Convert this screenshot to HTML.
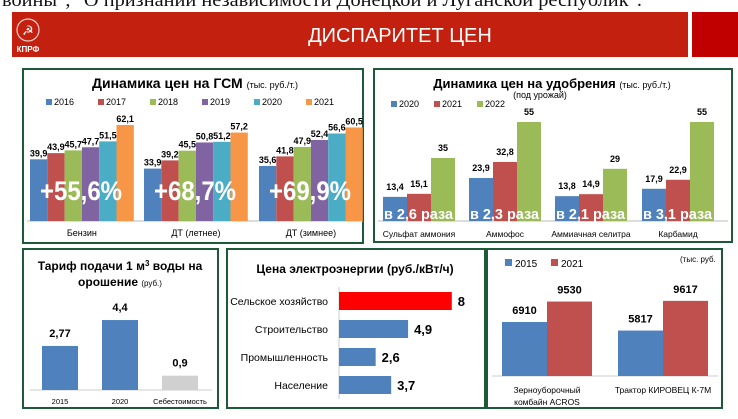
<!DOCTYPE html>
<html><head><meta charset="utf-8">
<style>
html,body{margin:0;padding:0;background:#fff;}
body{width:738px;height:414px;overflow:hidden;font-family:"Liberation Sans",sans-serif;}
svg text{font-family:"Liberation Sans","DejaVu Sans",sans-serif;}
</style></head><body>
<svg id="s" width="738" height="414" viewBox="0 0 738 414" xmlns="http://www.w3.org/2000/svg">
  <text x="2" y="6" font-size="19" fill="#111" textLength="640" lengthAdjust="spacingAndGlyphs" style="font-family:'Liberation Serif',serif">войны",  "О признании независимости Донецкой и Луганской республик".</text>
  <rect x="12" y="12" width="676" height="45" fill="#c4200f"/>
  <rect x="692" y="12" width="46" height="45" fill="#c00000"/>
  <g>
    <circle cx="28" cy="30" r="11" fill="none" stroke="#f3d0c8" stroke-width="1.2"/>
    <text x="28" y="35" font-size="13" fill="#fff" text-anchor="middle">☭</text>
    <text x="28" y="52" font-size="8" font-weight="bold" fill="#fff" text-anchor="middle">КПРФ</text>
  </g>
  <text x="400" y="42" font-size="20" fill="#fff" text-anchor="middle">ДИСПАРИТЕТ ЦЕН</text>

  <rect x="23" y="69" width="340" height="174" fill="#fff" stroke="#1d5a3a" stroke-width="2"/>
  <rect x="374" y="69" width="358" height="173" fill="#fff" stroke="#1d5a3a" stroke-width="2"/>
  <rect x="23" y="249" width="195" height="159" fill="#fff" stroke="#1d5a3a" stroke-width="2"/>
  <rect x="227" y="249" width="258" height="159" fill="#fff" stroke="#1d5a3a" stroke-width="2"/>
  <rect x="487" y="249" width="235" height="159" fill="#fff" stroke="#1d5a3a" stroke-width="2"/>

  <text x="195" y="88" font-size="14" font-weight="bold" text-anchor="middle">Динамика цен на ГСМ <tspan font-size="9" font-weight="normal">(тыс. руб./т.)</tspan></text>
  <text x="552" y="88" font-size="13" font-weight="bold" text-anchor="middle">Динамика цен на удобрения <tspan font-size="9" font-weight="normal">(тыс. руб./т.)</tspan></text>
  <text x="540" y="98" font-size="9" text-anchor="middle">(под урожай)</text>
  <text x="120" y="270" font-size="12" font-weight="bold" text-anchor="middle">Тариф подачи 1 м<tspan font-size="8" dy="-4">3</tspan><tspan dy="4"> воды на</tspan></text>
  <text x="120" y="286" font-size="12" font-weight="bold" text-anchor="middle">орошение <tspan font-size="8" font-weight="normal">(руб.)</tspan></text>
  <text x="355" y="273" font-size="12" font-weight="bold" text-anchor="middle">Цена электроэнергии (руб./кВт/ч)</text>
  <text x="680" y="262" font-size="8">(тыс. руб.</text>
  <g id="g"></g>
</svg>
<script>
const fuelCats=["Бензин","ДТ (летнее)","ДТ (зимнее)"];
const fuelYears=["2016","2017","2018","2019","2020","2021"];
const fuel2016=[39.9,33.9,35.6];
const fuel2017=[43.9,39.2,41.8];
const fuel2018=[45.7,45.5,47.9];
const fuel2019=[47.7,50.8,52.4];
const fuel2020=[51.5,51.2,56.6];
const fuel2021=[62.1,57.2,60.5];
const fuelPct=["+55,6%","+68,7%","+69,9%"];
const fertCats=["Сульфат аммония","Аммофос","Аммиачная селитра","Карбамид"];
const fertYears=["2020","2021","2022"];
const fert2020=[13.4,23.9,13.8,17.9];
const fert2021=[15.1,32.8,14.9,22.9];
const fert2022=[35,55,29,55];
const fertRatio=["в 2,6 раза","в 2,3 раза","в 2,1 раза","в 3,1 раза"];
const waterCats=["2015","2020","Себестоимость"];
const waterVals=[2.77,4.4,0.9];
const elecCats=["Сельское хозяйство","Строительство","Промышленность","Население"];
const elecVals=[8,4.9,2.6,3.7];
const machCats=[["Зерноуборочный","комбайн ACROS"],["Трактор КИРОВЕЦ К-7М"]];
const machYears=["2015","2021"];
const mach2015=[6910,5817];
const mach2021=[9530,9617];

const NS="http://www.w3.org/2000/svg",G=document.getElementById('g');
function el(t,a,txt){const e=document.createElementNS(NS,t);for(const k in a)e.setAttribute(k,a[k]);if(txt!==undefined)e.textContent=txt;G.appendChild(e);return e;}
const fmt=v=>String(v).replace('.',',');
const C=["#4f81bd","#c0504d","#9bbb59","#8064a2","#4bacc6","#f79646"];

// fuel chart
(function(){
 const series=[fuel2016,fuel2017,fuel2018,fuel2019,fuel2020,fuel2021];
 const base=221,sy=v=>base-v*1.546,g0=[30,144,259],bw=17.3;
 fuelYears.forEach((y,i)=>{const x=46+i*52;
  let r=el('rect',{x:x,y:99,width:6,height:6,fill:C[i]});
  let t=el('text',{x:x+8,y:105,'font-size':9},y);});
 el('line',{x1:27,y1:base,x2:363,y2:base,stroke:'#bbb'});
 fuelCats.forEach((c,j)=>{
  series.forEach((s,i)=>{const x=g0[j]+i*bw,v=s[j];
   let r=el('rect',{x:x,y:sy(v),width:bw,height:base-sy(v),fill:C[i]});
   let t=el('text',{x:x+bw/2,y:sy(v)-3,'font-size':9,'font-weight':'bold','text-anchor':'middle'},fmt(v));});
  let p=el('text',{x:g0[j]+10,y:200,'font-size':27,'font-weight':'bold',fill:'#fff',textLength:82,lengthAdjust:'spacingAndGlyphs'},fuelPct[j]);
  let t=el('text',{x:g0[j]+3*bw,y:236,'font-size':9,'text-anchor':'middle'},c);});
})();

// fertilizer chart
(function(){
 const series=[fert2020,fert2021,fert2022];
 const base=221,sy=v=>base-v*1.8,g0=[383,469,555,642],bw=24;
 fertYears.forEach((y,i)=>{const x=391+i*43;
  let r=el('rect',{x:x,y:101,width:6,height:6,fill:C[i]});
  let t=el('text',{x:x+8,y:107,'font-size':9},y);});
 el('line',{x1:378,y1:base,x2:728,y2:base,stroke:'#bbb'});
 fertCats.forEach((c,j)=>{
  series.forEach((s,i)=>{const x=g0[j]+i*bw,v=s[j];
   let r=el('rect',{x:x,y:sy(v),width:bw,height:base-sy(v),fill:C[i]});
   let t=el('text',{x:x+bw/2,y:sy(v)-7,'font-size':9,'font-weight':'bold','text-anchor':'middle'},fmt(v));});
  let p=el('text',{x:g0[j]+1,y:219,'font-size':15,'font-weight':'bold',fill:'#fff',textLength:69,lengthAdjust:'spacingAndGlyphs'},fertRatio[j]);
  let t=el('text',{x:g0[j]+1.5*bw,y:237,'font-size':8.5,'text-anchor':'middle'},c);});
})();

// water chart
(function(){
 const base=390,sy=v=>base-v*15.9,xs=[42,102,162],cols=["#4f81bd","#4f81bd","#d0d0d0"];
 el('line',{x1:30,y1:base,x2:212,y2:base,stroke:'#ccc'});
 waterCats.forEach((c,i)=>{const v=waterVals[i];
  let r=el('rect',{x:xs[i],y:sy(v),width:36,height:base-sy(v),fill:cols[i]});
  let t=el('text',{x:xs[i]+18,y:sy(v)-9,'font-size':11,'font-weight':'bold','text-anchor':'middle'},fmt(v));
  let l=el('text',{x:xs[i]+18,y:404,'font-size':7.5,'text-anchor':'middle'},c);});
})();

// electricity chart
(function(){
 const x0=339,sx=v=>v*14.1,ys=[292,320,348,376];
 el('line',{x1:x0,y1:287,x2:x0,y2:399,stroke:'#ccc'});
 elecCats.forEach((c,i)=>{const v=elecVals[i];
  let r=el('rect',{x:x0,y:ys[i],width:sx(v),height:18,fill:i===0?'#ff0000':'#4f81bd'});
  let t=el('text',{x:x0+sx(v)+6,y:ys[i]+14,'font-size':13,'font-weight':'bold'},fmt(v));
  let l=el('text',{x:328,y:ys[i]+13,'font-size':10.5,'text-anchor':'end'},c);});
})();

// machinery chart
(function(){
 const base=376,sy=v=>base-v/128,g0=[502,618],bw=45,series=[mach2015,mach2021];
 machYears.forEach((y,i)=>{const x=505+i*46;
  let r=el('rect',{x:x,y:259,width:7,height:7,fill:C[i]});
  let t=el('text',{x:x+10,y:267,'font-size':10},y);});
 el('line',{x1:492,y1:base,x2:718,y2:base,stroke:'#ccc'});
 machCats.forEach((c,j)=>{
  series.forEach((s,i)=>{const x=g0[j]+i*bw,v=s[j];
   let r=el('rect',{x:x,y:sy(v),width:bw,height:base-sy(v),fill:C[i]});
   let t=el('text',{x:x+bw/2,y:sy(v)-8,'font-size':11,'font-weight':'bold','text-anchor':'middle'},String(v));});
  c.forEach((line,k)=>{let t=el('text',{x:g0[j]+bw,y:393+k*12,'font-size':8.5,'text-anchor':'middle'},line);});});
})();
</script>
</body></html>
